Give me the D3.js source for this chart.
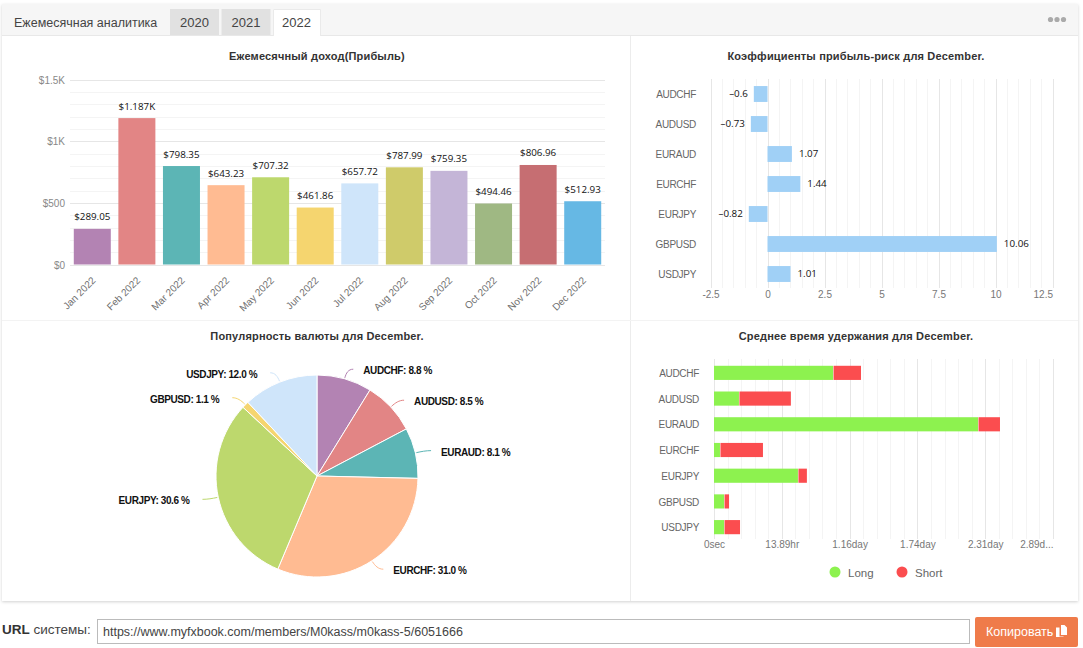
<!DOCTYPE html>
<html><head><meta charset="utf-8">
<script src="https://cdnjs.cloudflare.com/ajax/libs/d3/7.8.5/d3.min.js"></script>
<style>
html,body{margin:0;padding:0;background:#fff;overflow:hidden}
svg{display:block}
text{font-family:"Liberation Sans",Arial,sans-serif}
.domain{display:none}
.axis line{display:none}
.title{font:bold 11px "Liberation Sans",Arial,sans-serif;letter-spacing:.17px;fill:#333;text-anchor:middle}
.val{font:9.8px "Open Sans",sans-serif;fill:#111}
.pie-label{font:bold 10px "Liberation Sans",Arial,sans-serif;letter-spacing:-.4px;fill:#111}
</style></head><body><div id="chart"></div>
<script>
const years = ["2020", "2021", "2022"];
const months = ["Jan 2022","Feb 2022","Mar 2022","Apr 2022","May 2022","Jun 2022","Jul 2022","Aug 2022","Sep 2022","Oct 2022","Nov 2022","Dec 2022"];
const profit = [289.05,1187,798.35,643.23,707.32,461.86,657.72,787.99,759.35,494.46,806.96,512.93];
const palette = ["#b383b3","#e28585","#5cb5b5","#ffbb92","#bdd86d","#f5d56f","#cfe5fa","#cfcb6a","#c4b5d7","#9fb883","#c66e72","#66b8e4"];
const pairs = ["AUDCHF","AUDUSD","EURAUD","EURCHF","EURJPY","GBPUSD","USDJPY"];
const riskRatio = [-0.6,-0.73,1.07,1.44,-0.82,10.06,1.01];
const popularity = [8.8,8.5,8.1,31.0,30.6,1.1,12.0];
const longSeconds = [87800,18400,194700,4400,61900,7400,7400];
const shortSeconds = [20600,38300,16200,31700,6600,3700,11800];
const timeTicks = [0,50000,100000,150000,200000,250000];
const timeTickLabels = ["0sec","13.89hr","1.16day","1.74day","2.31day","2.89d..."];
const longColor = "#8df24f", shortColor = "#fb4d4f", riskColor = "#a0d0f6";

const svg = d3.select("#chart").append("svg").attr("width",1083).attr("height",648);

// Card, header strip and tabs
const defs = svg.append("defs");
const shadow = defs.append("filter").attr("id","cardShadow").attr("x","-2%").attr("y","-2%").attr("width","104%").attr("height","104%");
shadow.append("feDropShadow").attr("dx",0).attr("dy",1).attr("stdDeviation",1.5).attr("flood-color","#000").attr("flood-opacity",.18);
svg.append("rect").attr("x",2).attr("y",4).attr("width",1076).attr("height",597).attr("fill","#fff").attr("filter","url(#cardShadow)");
svg.append("rect").attr("x",2).attr("y",4).attr("width",1076).attr("height",32).attr("fill","#f6f6f6");
svg.append("line").attr("x1",2).attr("x2",1078).attr("y1",35.5).attr("y2",35.5).attr("stroke","#e8e8e8");
svg.append("text").attr("x",14).attr("y",27).attr("font-family","Roboto").attr("font-size",12.5).attr("fill","#444").text("Ежемесячная аналитика");
const tabX = d3.scalePoint().domain(years).range([170,273]);
years.forEach((y,i)=>{
  const active = i===2;
  svg.append("rect").attr("x",tabX(y)).attr("y",9).attr("width",active?47:49).attr("height",active?27:26)
    .attr("fill",active?"#fff":"#e1e1e1");
  if(active) svg.append("path").attr("d",`M${tabX(y)+.5} 36V9.5H${tabX(y)+47.5}V36`).attr("fill","none").attr("stroke","#eaeaea");
  svg.append("text").attr("x",tabX(y)+(active?23.5:24.5)).attr("y",27).attr("text-anchor","middle")
    .attr("font-family","Roboto").attr("font-size",13).attr("fill","#444").text(y);
});
[1050.5,1057,1063.5].forEach(x=>svg.append("circle").attr("cx",x).attr("cy",19.5).attr("r",2.6).attr("fill","#aaa"));

// Dividers between the four panels
svg.append("line").attr("x1",630.5).attr("x2",630.5).attr("y1",36).attr("y2",601).attr("stroke","#ececec");
svg.append("line").attr("x1",2).attr("x2",1078).attr("y1",320.5).attr("y2",320.5).attr("stroke","#f3f3f3");

function grid(g, values, pos, a, b, horizontal, color){
  g.selectAll(null).data(values).join("line")
    .attr(horizontal?"y1":"x1",d=>Math.round(pos(d))+.5).attr(horizontal?"y2":"x2",d=>Math.round(pos(d))+.5)
    .attr(horizontal?"x1":"y1",a).attr(horizontal?"x2":"y2",b).attr("stroke",color);
}

// Monthly profit bars
{
  svg.append("text").attr("class","title").attr("x",317).attr("y",60).text("Ежемесячный доход(Прибыль)");
  const x = d3.scaleBand().domain(months).range([70,605]).paddingInner(.17).paddingOuter(.085);
  const y = d3.scaleLinear().domain([0,1500]).range([264.5,79.5]);
  const g = svg.append("g");
  grid(g,d3.range(100,1500,100),y,70,605,true,"#f4f4f4");
  grid(g,[0,500,1000,1500],y,70,605,true,"#e6e6e6");
  g.selectAll("rect").data(months).join("rect")
    .attr("x",d=>x(d)).attr("width",x.bandwidth())
    .attr("y",(d,i)=>y(profit[i])).attr("height",(d,i)=>y(0)-y(profit[i]))
    .attr("fill",(d,i)=>palette[i]);
  g.selectAll("text.val").data(months).join("text").attr("class","val")
    .attr("x",d=>x(d)+x.bandwidth()/2).attr("y",(d,i)=>y(profit[i])-8.5).attr("text-anchor","middle")
    .text((d,i)=>profit[i]>=1000?`$${d3.format(".4~r")(profit[i]/1000)}K`:`$${profit[i]}`);
  const ya = svg.append("g").attr("class","axis").attr("transform","translate(70,.5)")
    .call(d3.axisLeft(y).tickValues([0,500,1000,1500]).tickFormat(d=>d>=1000?`$${d/1000}K`:`$${d}`).tickSize(0).tickPadding(5));
  ya.selectAll("text").attr("font-size",10).attr("font-family","Liberation Sans").attr("fill","#888");
  const xa = svg.append("g").attr("class","axis").attr("transform","translate(0,264)")
    .call(d3.axisBottom(x).tickSize(0).tickPadding(0));
  xa.selectAll("text").attr("font-size",10).attr("font-family","Liberation Sans").attr("fill","#707070")
    .attr("text-anchor","end").attr("dy",0).attr("transform","translate(4,17) rotate(-45)");
}

// Profit-risk ratio bars
{
  svg.append("text").attr("class","title").attr("x",856).attr("y",60).text("Коэффициенты прибыль-риск для December.");
  const x = d3.scaleLinear().domain([-2.5,12.5]).range([710.5,1052.5]);
  const y = d3.scaleBand().domain(pairs).range([79,289]).paddingInner(.47).paddingOuter(.235);
  const g = svg.append("g");
  grid(g,d3.range(-2.5,12.51,.5),x,79,288,false,"#f4f4f4");
  grid(g,d3.range(-2.5,12.51,2.5),x,79,288,false,"#e6e6e6");
  g.selectAll("rect").data(pairs).join("rect")
    .attr("x",(d,i)=>x(Math.min(0,riskRatio[i]))).attr("y",d=>y(d)).attr("height",y.bandwidth())
    .attr("width",(d,i)=>Math.abs(x(riskRatio[i])-x(0))).attr("fill",riskColor);
  g.selectAll("text.val").data(pairs).join("text").attr("class","val")
    .attr("x",(d,i)=>x(riskRatio[i])+(riskRatio[i]<0?-6:7)).attr("y",d=>y(d)+y.bandwidth()/2+3)
    .attr("text-anchor",(d,i)=>riskRatio[i]<0?"end":"start")
    .text((d,i)=>String(riskRatio[i]).replace("-","–"));
  const ya = svg.append("g").attr("class","axis").attr("transform","translate(696,1)")
    .call(d3.axisLeft(y).tickSize(0).tickPadding(0));
  ya.selectAll("text").attr("font-size",10).attr("letter-spacing",-.3).attr("fill","#666");
  const xa = svg.append("g").attr("class","axis").attr("transform","translate(0,288)")
    .call(d3.axisBottom(x).tickValues(d3.range(-2.5,12.51,2.5)).tickFormat(d=>d).tickSize(0).tickPadding(3));
  xa.selectAll("text").attr("font-size",10).attr("fill","#777");
  xa.selectAll(".tick:last-child text").attr("text-anchor","end");
}

// Currency popularity pie
{
  svg.append("text").attr("class","title").attr("x",317).attr("y",340).text("Популярность валюты для December.");
  const cx = 317, cy = 476, r = 101, labelR = 111;
  const arcs = d3.pie().sort(null)(popularity);
  const g = svg.append("g").attr("transform",`translate(${cx},${cy})`);
  g.selectAll("path.slice").data(arcs).join("path").attr("class","slice")
    .attr("d",d3.arc().innerRadius(0).outerRadius(r))
    .attr("fill",(d,i)=>palette[i]).attr("stroke","#fff").attr("stroke-width",1);
  arcs.forEach((d,i)=>{
    const mid = (d.startAngle+d.endAngle)/2, sn = Math.sin(mid), cs = Math.cos(mid);
    const side = sn>=0?1:-1;
    const ex = sn*labelR, ey = -cs*labelR;
    const tx = ex+side*6, sx = sn*(r+1), sy = -cs*(r+1);
    g.append("path").attr("d",`M${tx},${ey}C${tx-side*5},${ey} ${sx+sn*5},${sy-cs*5} ${sx},${sy}`)
      .attr("fill","none").attr("stroke",palette[i]).attr("stroke-width",1);
    g.append("text").attr("class","pie-label").attr("x",ex+side*(side>0?16:19)).attr("y",ey+5)
      .attr("text-anchor",side>0?"start":"end").text(`${pairs[i]}: ${popularity[i].toFixed(1)} %`);
  });
}

// Average holding time stacked bars
{
  svg.append("text").attr("class","title").attr("x",856).attr("y",340).text("Среднее время удержания для December.");
  const x = d3.scaleLinear().domain([0,250000]).range([714,1053]);
  const y = d3.scaleBand().domain(pairs).range([360,540]).paddingInner(.45).paddingOuter(.225);
  const g = svg.append("g");
  grid(g,d3.range(0,250001,10000),x,359,539,false,"#f4f4f4");
  grid(g,timeTicks,x,359,539,false,"#e6e6e6");
  g.selectAll("rect.long").data(pairs).join("rect").attr("class","long")
    .attr("x",x(0)).attr("y",d=>y(d)).attr("height",y.bandwidth())
    .attr("width",(d,i)=>x(longSeconds[i])-x(0)).attr("fill",longColor);
  g.selectAll("rect.short").data(pairs).join("rect").attr("class","short")
    .attr("x",(d,i)=>x(longSeconds[i])+.5).attr("y",d=>y(d)).attr("height",y.bandwidth())
    .attr("width",(d,i)=>x(longSeconds[i]+shortSeconds[i])-x(longSeconds[i])-.5).attr("fill",shortColor);
  const ya = svg.append("g").attr("class","axis").attr("transform","translate(699,1)")
    .call(d3.axisLeft(y).tickSize(0).tickPadding(0));
  ya.selectAll("text").attr("font-size",10).attr("letter-spacing",-.3).attr("fill","#666");
  const xa = svg.append("g").attr("class","axis").attr("transform","translate(0,539)")
    .call(d3.axisBottom(x).tickValues(timeTicks).tickFormat((d,i)=>timeTickLabels[i]).tickSize(0).tickPadding(2));
  xa.selectAll("text").attr("font-size",10).attr("fill","#777");
  xa.selectAll(".tick:last-child text").attr("text-anchor","end");
  const legend = [["Long",longColor,835],["Short",shortColor,902]];
  legend.forEach(([name,color,lx])=>{
    svg.append("circle").attr("cx",lx).attr("cy",572).attr("r",5.5).attr("fill",color);
    svg.append("text").attr("x",lx+13).attr("y",577).attr("font-family","Open Sans").attr("font-size",11.5).attr("fill","#666").text(name);
  });
}

// Link row under the card
const urlLabel = svg.append("text").attr("x",2).attr("y",634).attr("font-family","Roboto").attr("font-size",13.5).attr("fill","#444");
urlLabel.append("tspan").attr("font-weight","bold").attr("fill","#333").text("URL");
urlLabel.append("tspan").text(" системы:");
svg.append("rect").attr("x",97.5).attr("y",619.5).attr("width",872).attr("height",24).attr("fill","#fff").attr("stroke","#bbb");
svg.append("text").attr("x",103).attr("y",636).attr("font-family","Roboto").attr("font-size",12.5).attr("fill","#444")
  .text("https://www.myfxbook.com/members/M0kass/m0kass-5/6051666");
svg.append("rect").attr("x",975).attr("y",617).attr("width",103).attr("height",30).attr("rx",2).attr("fill","#ef7b4a");
svg.append("text").attr("x",986).attr("y",636).attr("font-family","Roboto").attr("font-size",12.5).attr("fill","#fff").text("Копировать");
svg.append("path").attr("fill","#fff")
  .attr("d","M1061 625h3.5l2.5 2.5v7.5h-6zM1056 627.5h3.5v9h4v.5h-7.5z");
</script></body></html>
